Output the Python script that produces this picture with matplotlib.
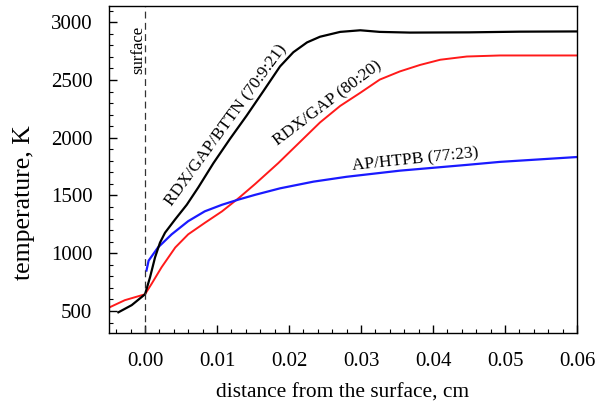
import matplotlib
matplotlib.use("Agg")
import matplotlib.pyplot as plt
from matplotlib.ticker import MultipleLocator

plt.rcParams["font.family"] = ["Liberation Serif", "DejaVu Serif"]

# Temperature profiles (distance in cm, temperature in K)
x_bttn = [-0.0037, -0.00185, 0.0, 0.0007, 0.00139, 0.00208, 0.00278, 0.00417,
          0.0058, 0.0074, 0.0095, 0.0118, 0.0141, 0.0164, 0.01875, 0.0206,
          0.0225, 0.0243, 0.0271, 0.0299, 0.0326, 0.0368, 0.045, 0.052, 0.06]
t_bttn = [489, 551, 645, 793, 964, 1092, 1178, 1292,
          1420, 1570, 1780, 1990, 2190, 2400, 2617, 2740,
          2825, 2874, 2916, 2930, 2916, 2910, 2912, 2918, 2920]

x_gap = [-0.005, -0.0028, 0.0, 0.00093, 0.0023, 0.0042, 0.006, 0.0083, 0.0107,
         0.013, 0.0153, 0.0185, 0.0215, 0.0243, 0.0271, 0.0299, 0.0326, 0.0354,
         0.0382, 0.041, 0.0447, 0.0493, 0.06]
t_gap = [530, 594, 645, 737, 879, 1050, 1164, 1263, 1363,
         1477, 1600, 1780, 1962, 2132, 2275, 2389, 2503, 2574,
         2630, 2675, 2703, 2712, 2712]

x_htpb = [0.0002, 0.0005, 0.0018, 0.0037, 0.006, 0.0083, 0.0107, 0.013, 0.0153,
          0.01875, 0.0234, 0.028, 0.0354, 0.0447, 0.0493, 0.06]
t_htpb = [850, 936, 1050, 1164, 1278, 1363, 1420, 1465, 1506,
          1562, 1620, 1662, 1715, 1765, 1791, 1833]

x_ticks = [0.00, 0.01, 0.02, 0.03, 0.04, 0.05, 0.06]
y_ticks = [500, 1000, 1500, 2000, 2500, 3000]

fig = plt.figure(figsize=(6.07, 4.01), dpi=100)
ax = fig.add_axes([0.1796, 0.1696, 0.771, 0.8154])

ax.plot(x_gap, t_gap, color="#ff1a1a", lw=1.4)
ax.plot(x_htpb, t_htpb, color="#1a1aff", lw=1.6)
ax.plot(x_bttn, t_bttn, color="black", lw=1.6)
ax.axvline(0.0, color="#333333", lw=0.9, ls=(0, (5.5, 3.5)))

ax.set_xlim(-0.005, 0.06)
ax.set_ylim(310, 3140)
ax.set_xticks(x_ticks)
ax.set_xticklabels([f"{v:.2f}" for v in x_ticks])
ax.set_yticks(y_ticks)
ax.xaxis.set_minor_locator(MultipleLocator(0.002))
ax.yaxis.set_minor_locator(MultipleLocator(100))
ax.tick_params(which="both", direction="in", top=False, right=False, labelsize=15)
ax.tick_params(which="major", length=6, width=1)
ax.tick_params(which="minor", length=3, width=0.8)
ax.tick_params(axis="x", pad=13.5)
ax.tick_params(axis="y", pad=12)
for s in ax.spines.values():
    s.set_linewidth(1.0)

ax.set_xlabel("distance from the surface, cm", fontsize=15.4, labelpad=9)
ax.set_ylabel("temperature, K", fontsize=18.5)
ax.yaxis.set_label_coords(-0.158, 0.40)

ax.text(-0.00097, 2757, "surface", rotation=90, fontsize=12, ha="center", va="center")
ax.text(0.01125, 2107, "RDX/GAP/BTTN (70:9:21)", rotation=54, fontsize=12.5,
        ha="center", va="center", rotation_mode="anchor")
ax.text(0.0254, 2300, "RDX/GAP (80:20)", rotation=37, fontsize=12.5,
        ha="center", va="center", rotation_mode="anchor")
ax.text(0.0375, 1805, "AP/HTPB (77:23)", rotation=6, fontsize=12.5,
        ha="center", va="center", rotation_mode="anchor")

fig.savefig("out.png", dpi=100)
